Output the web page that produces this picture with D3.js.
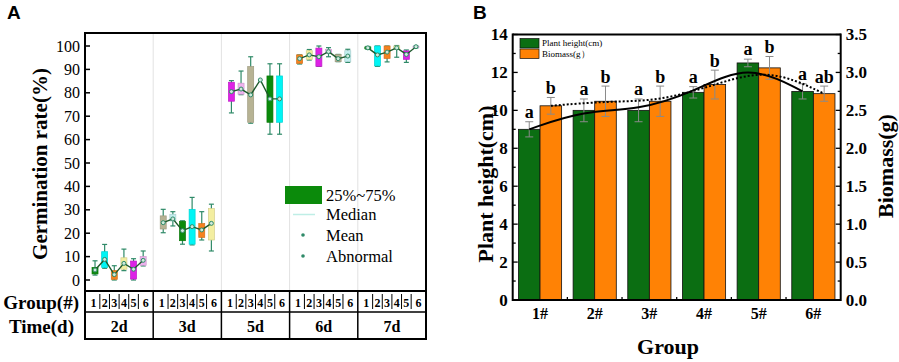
<!DOCTYPE html>
<html><head><meta charset="utf-8">
<script src="https://cdn.jsdelivr.net/npm/d3@7"></script>
<style>body{margin:0;background:#fff} svg{display:block}</style>
</head><body>
<svg id="c" width="899" height="362"></svg>
<script>
// ---------- Panel A data ----------
const days = ["2d", "3d", "5d", "6d", "7d"];
const groupsA = ["1", "2", "3", "4", "5", "6"];
const minA = [
  [2.1, 5.0, 0.0, 4.0, 0.0, 6.0],
  [20.2, 23.1, 15.3, 15.0, 17.1, 12.4],
  [71.4, 79.2, 67.0, 85.0, 62.3, 62.3],
  [92.3, 94.0, 91.3, 95.4, 93.3, 93.0],
  [98.6, 91.3, 93.2, 95.2, 93.0, 99.2]
];
const q1A = [
  [2.6, 5.3, 0.3, 4.6, 0.4, 6.3],
  [21.8, 25.2, 16.8, 15.3, 18.2, 17.1],
  [76.4, 79.4, 67.4, 85.0, 67.4, 67.4],
  [92.6, 94.3, 91.3, 96.9, 93.3, 93.3],
  [98.8, 91.5, 94.7, 98.5, 94.3, 99.4]
];
const q3A = [
  [5.4, 12.1, 4.0, 9.5, 8.1, 10.0],
  [27.4, 28.1, 25.1, 30.2, 24.1, 30.5],
  [84.5, 84.1, 91.2, 85.0, 87.2, 87.2],
  [96.2, 98.0, 99.1, 98.5, 96.4, 98.0],
  [99.6, 100.0, 100.0, 100.0, 97.9, 99.9]
];
const maxA = [
  [8.2, 15.2, 6.1, 13.2, 9.1, 12.4],
  [30.2, 29.2, 25.3, 35.3, 29.2, 32.4],
  [85.2, 89.3, 95.4, 85.0, 92.4, 92.4],
  [96.2, 98.5, 100.0, 99.3, 96.4, 98.6],
  [99.8, 100.0, 100.0, 100.2, 98.3, 100.0]
];
const meanA = [
  [4.3, 8.8, 2.3, 7.1, 4.6, 8.4],
  [24.5, 26.1, 21.1, 22.8, 21.4, 24.2],
  [80.5, 81.6, 79.1, 85.5, 77.4, 77.4],
  [94.6, 96.2, 95.4, 97.6, 94.6, 95.7],
  [99.2, 96.2, 97.4, 99.2, 96.4, 99.7]
];
const boxColors = ["#0b8a0b", "#00f5f5", "#f5821f", "#f3eea0", "#dd22e6", "#efb2ef", "#b7b394", "#c2eeee"];
const yTicksA = [0, 10, 20, 30, 40, 50, 60, 70, 80, 90, 100];
const legendA = ["25%~75%", "Median", "Mean", "Abnormal"];

// ---------- Panel B data ----------
const groupsB = ["1#", "2#", "3#", "4#", "5#", "6#"];
const heightB = [9.0, 10.0, 10.0, 10.95, 12.5, 11.0];
const heightErr = [0.4, 0.6, 0.6, 0.3, 0.2, 0.4];
const biomassB = [2.56, 2.62, 2.62, 2.84, 3.06, 2.72];
const biomassErr = [0.11, 0.2, 0.2, 0.19, 0.15, 0.1];
const letterH = ["a", "a", "a", "a", "a", "a"];
const letterB = ["b", "b", "b", "b", "b", "ab"];
const yTicksL = [0, 2, 4, 6, 8, 10, 12, 14];
const yTicksR = [0, 0.5, 1.0, 1.5, 2.0, 2.5, 3.0, 3.5];
const legendB = ["Plant height(cm)", "Biomass(g）"];

const SERIF = "'Liberation Serif','Times New Roman',serif";
const svg = d3.select("#c");

// ================= Panel A =================
(function () {
  const L = 85, R = 426, T = 33, B = 291, ROW1 = 312, ROW2 = 339;
  const g = svg.append("g");
  const y = d3.scaleLinear().domain([0, 100]).range([280, 46]);
  const xDay = d3.scaleBand().domain(days).range([L, R]);
  const xG = d3.scalePoint().domain(groupsA).range([0, xDay.bandwidth()]).padding(1.04);
  const bw = 6;

  g.append("text").attr("x", 7).attr("y", 19).text("A")
    .attr("font-family", "'Liberation Sans',Arial,sans-serif").attr("font-weight", "bold").attr("font-size", 19);

  // section separators
  days.slice(1).forEach(d => {
    g.append("line").attr("x1", xDay(d)).attr("x2", xDay(d)).attr("y1", T).attr("y2", B)
      .attr("stroke", "#e2e2e2").attr("stroke-width", 1);
  });

  // boxes
  days.forEach((d, di) => {
    const gx = i => xDay(d) + xG(groupsA[i]);
    groupsA.forEach((gr, i) => {
      const cx = gx(i);
      const col = boxColors[(di * 6 + i) % boxColors.length];
      const wc = "#2f8a68";
      if (maxA[di][i] - minA[di][i] > 0.01) {
        g.append("line").attr("x1", cx).attr("x2", cx).attr("y1", y(minA[di][i])).attr("y2", y(maxA[di][i]))
          .attr("stroke", wc).attr("stroke-width", 1.2);
        [minA[di][i], maxA[di][i]].forEach(v => {
          g.append("line").attr("x1", cx - 2.5).attr("x2", cx + 2.5).attr("y1", y(v)).attr("y2", y(v))
            .attr("stroke", wc).attr("stroke-width", 1.2);
        });
      }
      if (q3A[di][i] - q1A[di][i] > 0.01) {
        g.append("rect").attr("x", cx - bw / 2).attr("width", bw)
          .attr("y", y(q3A[di][i])).attr("height", y(q1A[di][i]) - y(q3A[di][i]))
          .attr("fill", col).attr("stroke", d3.color(col).darker(0.4)).attr("stroke-width", 0.7);
      }
    });
    // mean line
    const line = d3.line().x((v, i) => gx(i)).y(v => y(v));
    g.append("path").attr("d", line(meanA[di])).attr("fill", "none")
      .attr("stroke", "#1e5a2c").attr("stroke-width", 1.4);
    meanA[di].forEach((v, i) => {
      g.append("circle").attr("cx", gx(i)).attr("cy", y(v)).attr("r", 2)
        .attr("fill", "#cfe9dc").attr("stroke", "#2f8a68").attr("stroke-width", 1);
    });
  });

  // axis ticks and labels
  yTicksA.forEach(t => {
    g.append("line").attr("x1", L).attr("x2", L + 5).attr("y1", y(t)).attr("y2", y(t))
      .attr("stroke", "#000").attr("stroke-width", 1.5);
    g.append("text").attr("x", 80).attr("y", y(t)).attr("dy", "0.35em").attr("text-anchor", "end")
      .attr("font-family", SERIF).attr("font-size", 16).text(t);
  });
  g.append("text").attr("transform", `translate(47,${(T + B) / 2 + 2}) rotate(-90)`)
    .attr("text-anchor", "middle").attr("font-family", SERIF).attr("font-weight", "bold")
    .attr("font-size", 21).text("Germination rate(%)");

  // legend A
  const lx = 285, lt = 326;
  g.append("rect").attr("x", lx).attr("y", 186).attr("width", 37).attr("height", 18).attr("fill", "#0b8a0b");
  g.append("line").attr("x1", 293).attr("x2", 315).attr("y1", 214.5).attr("y2", 214.5)
    .attr("stroke", "#bfeee6").attr("stroke-width", 1.5);
  g.append("circle").attr("cx", 303).attr("cy", 235).attr("r", 1.8).attr("fill", "#2f8a68");
  g.append("circle").attr("cx", 303).attr("cy", 256).attr("r", 1.8).attr("fill", "#2f8a68");
  const ly = [195, 214.5, 235, 256];
  legendA.forEach((s, i) => {
    g.append("text").attr("x", lt).attr("y", ly[i]).attr("dy", "0.35em")
      .attr("font-family", SERIF).attr("font-size", 16.5).text(s);
  });

  // frame
  g.append("line").attr("x1", L).attr("x2", R).attr("y1", T).attr("y2", T).attr("stroke", "#000").attr("stroke-width", 2);
  g.append("line").attr("x1", L).attr("x2", L).attr("y1", T - 1).attr("y2", ROW2 + 1).attr("stroke", "#000").attr("stroke-width", 2);
  g.append("line").attr("x1", R).attr("x2", R).attr("y1", T - 1).attr("y2", ROW2 + 1).attr("stroke", "#000").attr("stroke-width", 2);
  [B, ROW1, ROW2].forEach((yy, k) => {
    g.append("line").attr("x1", L).attr("x2", R).attr("y1", yy).attr("y2", yy)
      .attr("stroke", "#000").attr("stroke-width", k === 1 ? 1.5 : 2);
  });
  days.slice(1).forEach(d => {
    g.append("line").attr("x1", xDay(d)).attr("x2", xDay(d)).attr("y1", B).attr("y2", ROW2)
      .attr("stroke", "#000").attr("stroke-width", 1.5);
  });
  // group cells
  days.forEach(d => {
    groupsA.forEach((gr, i) => {
      const cx = xDay(d) + xG(gr);
      g.append("text").attr("x", cx + (i === 0 ? -1.5 : i === 5 ? 2.5 : 0)).attr("y", (B + ROW1) / 2 + 1).attr("dy", "0.35em")
        .attr("text-anchor", "middle").attr("font-family", SERIF).attr("font-weight", "bold")
        .attr("font-size", 12).text(gr);
      if (i > 0) {
        const mx = xDay(d) + (xG(groupsA[i - 1]) + xG(gr)) / 2;
        g.append("line").attr("x1", mx).attr("x2", mx).attr("y1", B + 3).attr("y2", ROW1 - 3)
          .attr("stroke", "#000").attr("stroke-width", 1);
      }
    });
    g.append("text").attr("x", xDay(d) + xDay.bandwidth() / 2).attr("y", (ROW1 + ROW2) / 2 + 1)
      .attr("dy", "0.35em").attr("text-anchor", "middle").attr("font-family", SERIF)
      .attr("font-weight", "bold").attr("font-size", 16).text(d);
  });
  g.append("text").attr("x", 79).attr("y", (B + ROW1) / 2 + 1).attr("dy", "0.35em").attr("text-anchor", "end")
    .attr("font-family", SERIF).attr("font-weight", "bold").attr("font-size", 19).text("Group(#)");
  g.append("text").attr("x", 74).attr("y", (ROW1 + ROW2) / 2 + 1).attr("dy", "0.35em").attr("text-anchor", "end")
    .attr("font-family", SERIF).attr("font-weight", "bold").attr("font-size", 19).text("Time(d)");
})();

// ================= Panel B =================
(function () {
  const L = 512.7, R = 840.7, T = 34.5, B = 300;
  const g = svg.append("g");
  const yL = d3.scaleLinear().domain([0, 14]).range([B, T]);
  const yR = d3.scaleLinear().domain([0, 3.5]).range([B, T]);
  const x = d3.scaleBand().domain(groupsB).range([L, R]).paddingInner(0.21).paddingOuter(0.105);
  const xs = d3.scaleBand().domain(["h", "b"]).range([0, x.bandwidth()]);
  const green = "#0b6e12", orange = "#ff8205";

  g.append("text").attr("x", 473).attr("y", 19).text("B")
    .attr("font-family", "'Liberation Sans',Arial,sans-serif").attr("font-weight", "bold").attr("font-size", 19);

  groupsB.forEach((gr, i) => {
    g.append("rect").attr("x", x(gr) + xs("h")).attr("width", xs.bandwidth())
      .attr("y", yL(heightB[i])).attr("height", B - yL(heightB[i]))
      .attr("fill", green).attr("stroke", "#111").attr("stroke-width", 0.8);
    g.append("rect").attr("x", x(gr) + xs("b")).attr("width", xs.bandwidth())
      .attr("y", yR(biomassB[i])).attr("height", B - yR(biomassB[i]))
      .attr("fill", orange).attr("stroke", "#111").attr("stroke-width", 0.8);
  });
  // error bars
  const eb = (cx, lo, hi) => {
    g.append("line").attr("x1", cx).attr("x2", cx).attr("y1", lo).attr("y2", hi).attr("stroke", "#8a8a8a").attr("stroke-width", 1);
    [lo, hi].forEach(v => g.append("line").attr("x1", cx - 4).attr("x2", cx + 4).attr("y1", v).attr("y2", v)
      .attr("stroke", "#8a8a8a").attr("stroke-width", 1));
  };
  groupsB.forEach((gr, i) => {
    const ch = x(gr) + xs("h") + xs.bandwidth() / 2;
    const cb = x(gr) + xs("b") + xs.bandwidth() / 2;
    eb(ch, yL(heightB[i] - heightErr[i]), yL(heightB[i] + heightErr[i]));
    eb(cb, yR(biomassB[i] - biomassErr[i]), yR(biomassB[i] + biomassErr[i]));
    g.append("text").attr("x", ch).attr("y", yL(heightB[i] + heightErr[i]) - 4).attr("text-anchor", "middle")
      .attr("font-family", SERIF).attr("font-weight", "bold").attr("font-size", 18).text(letterH[i]);
    g.append("text").attr("x", cb).attr("y", yR(biomassB[i] + biomassErr[i]) - 3).attr("text-anchor", "middle")
      .attr("font-family", SERIF).attr("font-weight", "bold").attr("font-size", 18).text(letterB[i]);
  });
  // smooth curves
  const lineH = d3.line().curve(d3.curveBasis)
    .x((v, i) => x(groupsB[i]) + xs("h") + xs.bandwidth() / 2).y(v => yL(v));
  const lineB = d3.line().curve(d3.curveBasis)
    .x((v, i) => x(groupsB[i]) + xs("b") + xs.bandwidth() / 2).y(v => yR(v));
  g.append("path").attr("d", lineH(heightB)).attr("fill", "none").attr("stroke", "#000").attr("stroke-width", 2);
  g.append("path").attr("d", lineB(biomassB)).attr("fill", "none").attr("stroke", "#000")
    .attr("stroke-width", 2).attr("stroke-dasharray", "2,2");

  // frame
  g.append("line").attr("x1", L).attr("x2", R).attr("y1", T).attr("y2", T).attr("stroke", "#000").attr("stroke-width", 2);
  g.append("line").attr("x1", L).attr("x2", R).attr("y1", B).attr("y2", B).attr("stroke", "#000").attr("stroke-width", 2);
  g.append("line").attr("x1", L).attr("x2", L).attr("y1", T - 1).attr("y2", B + 1).attr("stroke", "#000").attr("stroke-width", 2);
  g.append("line").attr("x1", R).attr("x2", R).attr("y1", T - 1).attr("y2", B + 1).attr("stroke", "#000").attr("stroke-width", 2);

  // ticks
  d3.range(0, 14.01, 1).forEach(v => {
    const len = v % 2 === 0 ? 5 : 3;
    g.append("line").attr("x1", L).attr("x2", L + len).attr("y1", yL(v)).attr("y2", yL(v)).attr("stroke", "#000").attr("stroke-width", 1.3);
  });
  d3.range(0, 3.51, 0.25).forEach(v => {
    const len = Math.abs(v * 2 - Math.round(v * 2)) < 1e-6 ? 5 : 3;
    g.append("line").attr("x1", R - len).attr("x2", R).attr("y1", yR(v)).attr("y2", yR(v)).attr("stroke", "#000").attr("stroke-width", 1.3);
  });
  groupsB.slice(1).forEach(gr => {
    const bx = x(gr) - x.step() * x.paddingInner() / 2;
    g.append("line").attr("x1", bx).attr("x2", bx).attr("y1", B).attr("y2", B - 3).attr("stroke", "#000").attr("stroke-width", 1.3);
  });
  yTicksL.forEach(t => {
    g.append("text").attr("x", L - 5).attr("y", yL(t)).attr("dy", "0.35em").attr("text-anchor", "end")
      .attr("font-family", SERIF).attr("font-weight", "bold").attr("font-size", 17).text(t);
  });
  yTicksR.forEach(t => {
    g.append("text").attr("x", R + 5).attr("y", yR(t)).attr("dy", "0.35em").attr("text-anchor", "start")
      .attr("font-family", SERIF).attr("font-weight", "bold").attr("font-size", 17).text(t.toFixed(1));
  });
  groupsB.forEach(gr => {
    g.append("text").attr("x", x(gr) + x.bandwidth() / 2).attr("y", 319).attr("text-anchor", "middle")
      .attr("font-family", SERIF).attr("font-weight", "bold").attr("font-size", 16).text(gr);
  });
  g.append("text").attr("x", 668).attr("y", 354).attr("text-anchor", "middle")
    .attr("font-family", SERIF).attr("font-weight", "bold").attr("font-size", 22).text("Group");
  g.append("text").attr("transform", `translate(493,184) rotate(-90)`).attr("text-anchor", "middle")
    .attr("font-family", SERIF).attr("font-weight", "bold").attr("font-size", 22).text("Plant height(cm)");
  g.append("text").attr("transform", `translate(893,166) rotate(-90)`).attr("text-anchor", "middle")
    .attr("font-family", SERIF).attr("font-weight", "bold").attr("font-size", 22).text("Biomass(g)");

  // legend B
  [green, orange].forEach((c, i) => {
    g.append("rect").attr("x", 520).attr("y", 38.5 + i * 10.5).attr("width", 19).attr("height", 9.5)
      .attr("fill", c).attr("stroke", "#111").attr("stroke-width", 0.7);
    g.append("text").attr("x", 542).attr("y", 43.2 + i * 10.5).attr("dy", "0.35em")
      .attr("font-family", SERIF).attr("font-size", 9).text(legendB[i]);
  });
})();
</script>
</body></html>
